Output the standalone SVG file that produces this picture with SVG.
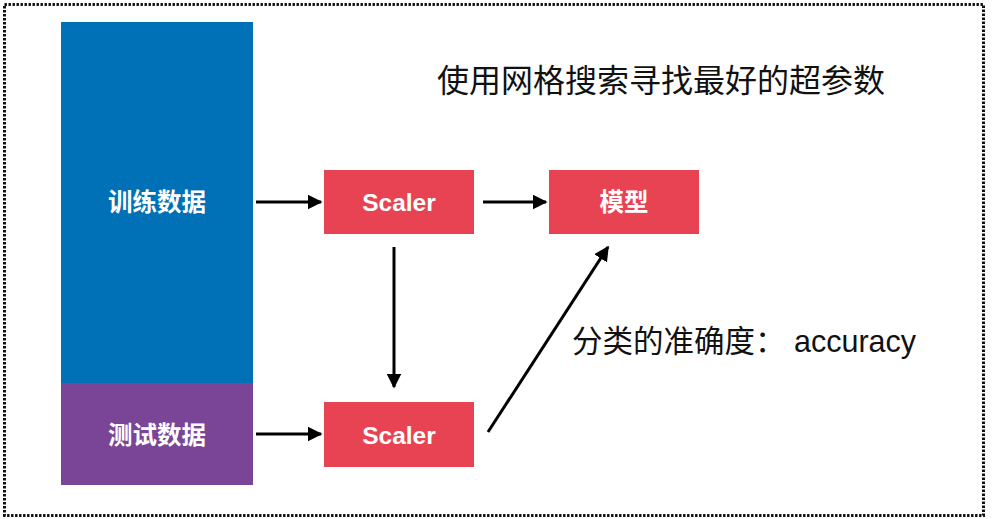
<svg xmlns="http://www.w3.org/2000/svg" width="996" height="519" viewBox="0 0 996 519">
<style>
.box{fill:#E84352}
.lbl{font-family:"Liberation Sans","Noto Sans CJK SC",sans-serif;font-weight:bold;font-size:24.5px;fill:#fff;text-anchor:middle;dominant-baseline:central}
.txt{font-family:"Liberation Sans","Noto Sans CJK SC",sans-serif;fill:#111}
.conn{stroke:#000;stroke-width:3;fill:none;marker-end:url(#ah)}
</style>
<defs>
<marker id="ah" viewBox="0 0 10 10" refX="9" refY="5" markerWidth="5" markerHeight="5" orient="auto" markerUnits="strokeWidth">
<path d="M0,0 L10,5 L0,10 Z" fill="#000"/>
</marker>
</defs>
<rect x="4.5" y="4.5" width="979" height="511" fill="none" stroke="#111" stroke-width="3" stroke-dasharray="2.4 1.6"/>
<g id="train">
<rect x="61" y="22" width="192" height="361" fill="#0071B6"/>
<text class="lbl" x="157" y="202">训练数据</text>
</g>
<g id="test">
<rect x="61" y="383" width="192" height="102" fill="#7A4597"/>
<text class="lbl" x="157" y="435">测试数据</text>
</g>
<g id="scaler1">
<rect class="box" x="324" y="170" width="150" height="64"/>
<text class="lbl" x="399" y="202">Scaler</text>
</g>
<g id="model">
<rect class="box" x="549" y="170" width="150" height="64"/>
<text class="lbl" x="624" y="202">模型</text>
</g>
<g id="scaler2">
<rect class="box" x="324" y="402" width="150" height="65"/>
<text class="lbl" x="399" y="435">Scaler</text>
</g>
<g id="title">
<text class="txt" x="661" y="92" font-size="32" text-anchor="middle">使用网格搜索寻找最好的超参数</text>
</g>
<g id="accuracy">
<text class="txt" x="572" y="352" font-size="30.5">分类的准确度： accuracy</text>
</g>
<g id="connectors">
<line class="conn" x1="256" y1="202" x2="321" y2="202"/>
<line class="conn" x1="483" y1="202" x2="546" y2="202"/>
<line class="conn" x1="394" y1="247" x2="394" y2="387"/>
<line class="conn" x1="256" y1="434" x2="321" y2="434"/>
<line class="conn" x1="488" y1="432" x2="608" y2="247"/>
</g>
</svg>
